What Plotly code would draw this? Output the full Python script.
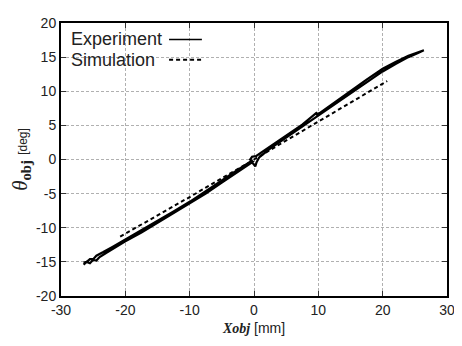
import plotly.graph_objects as go

# Experiment: hysteresis loop, lower branch (left -> right) then upper branch (right -> left)
exp_lower_x = [-26.5, -26.0, -25.5, -25.0, -24.5, -24.0, -23.0, -22.0, -20.0, -17.5, -15.0, -12.5, -10.0,
               -7.5, -5.0, -2.5, -1.0, -0.3, 0.2, 0.4, 0.8, 2.5, 5.0, 7.5, 9.5, 10.0, 12.5, 15.0,
               17.5, 20.0, 22.0, 24.0, 25.5, 26.4]
exp_lower_y = [-15.4, -15.0, -15.2, -14.7, -14.8, -14.3, -13.7, -13.1, -12.0, -10.7, -9.3, -7.9, -6.5,
               -5.0, -3.4, -1.8, -0.8, -0.4, -1.0, -0.4, 0.3, 1.6, 3.2, 4.8, 6.1, 6.4, 8.0, 9.7,
               11.3, 12.9, 14.0, 15.0, 15.6, 15.9]
exp_upper_x = [26.4, 25.5, 24.0, 22.0, 20.0, 17.5, 15.0, 12.5, 10.2, 9.6, 9.8, 7.5, 5.0, 2.5, 1.0,
               0.3, -0.3, -0.6, -0.2, -1.0, -2.5, -5.0, -7.5, -10.0, -12.5, -15.0, -17.5, -20.0,
               -22.0, -23.5, -24.5, -25.0, -25.5, -26.0, -26.5]
exp_upper_y = [16.0, 15.7, 15.2, 14.3, 13.3, 11.7, 10.0, 8.4, 6.8, 6.6, 6.9, 5.1, 3.5, 1.9, 0.9,
               0.5, 0.4, 0.0, -0.3, -0.6, -1.5, -3.1, -4.7, -6.2, -7.6, -9.0, -10.4, -11.7,
               -12.8, -13.6, -14.1, -14.6, -14.6, -15.0, -15.1]

# Simulation
sim_x = [-20.8, -10.0, 0.0, 10.0, 20.7]
sim_y = [-11.3, -5.5, 0.0, 5.5, 11.5]

x_ticks = [-30, -20, -10, 0, 10, 20, 30]
y_ticks = [-20, -15, -10, -5, 0, 5, 10, 15, 20]

fig = go.Figure()
fig.add_trace(go.Scatter(x=exp_lower_x + exp_upper_x, y=exp_lower_y + exp_upper_y,
                         mode="lines", name="Experiment",
                         line=dict(color="black", width=2.2), showlegend=False))
fig.add_trace(go.Scatter(x=sim_x, y=sim_y, mode="lines", name="Simulation",
                         line=dict(color="black", width=2, dash="4px,3px"), showlegend=False))

# legend (text left, sample line right)
legend_items = [("Experiment", "solid", 0.94), ("Simulation", "4px,3px", 0.865)]
for name, dash, yy in legend_items:
    fig.add_annotation(xref="paper", yref="paper", x=0.02, y=yy, text=name, showarrow=False,
                       xanchor="left", yanchor="middle",
                       font=dict(family="Liberation Sans, Arial", size=18, color="#222"))
    fig.add_shape(type="line", xref="paper", yref="paper", x0=0.28, x1=0.365, y0=yy, y1=yy,
                  line=dict(color="black", width=1.5 if dash == "solid" else 2, dash=dash))

axis_common = dict(
    showline=True, linecolor="black", linewidth=2, mirror="ticks",
    ticks="inside", ticklen=5, tickcolor="#333", tickwidth=1,
    showgrid=True, gridcolor="#b0b0b0", gridwidth=1, griddash="3px,2px",
    zeroline=False,
    tickfont=dict(family="Liberation Sans, Arial", size=14, color="#222"),
)

fig.update_xaxes(range=[-30, 30], tickvals=x_ticks, ticktext=[str(v) for v in x_ticks],
                 title=dict(text="<b><i><span style='font-family:Liberation Serif, Times New Roman'>Xobj</span></i></b> [mm]",
                            font=dict(family="Liberation Sans, Arial", size=14, color="#222"), standoff=6),
                 **axis_common)
fig.update_yaxes(range=[-20, 20], tickvals=y_ticks, ticktext=[str(v) for v in y_ticks],
                 title=dict(text="<i>θ</i><sub><b>obj</b></sub> <span style='font-size:12px;font-family:Liberation Sans, Arial'>[deg]</span>",
                            font=dict(family="Liberation Serif, Times New Roman", size=21, color="#222"), standoff=6),
                 **axis_common)

# page body has an 8px default margin; figure sized to fill the remaining window
fig.update_layout(width=454, height=338, margin=dict(l=49, r=13, t=7, b=50),
                  paper_bgcolor="white", plot_bgcolor="white")

fig.write_html("out.html")
